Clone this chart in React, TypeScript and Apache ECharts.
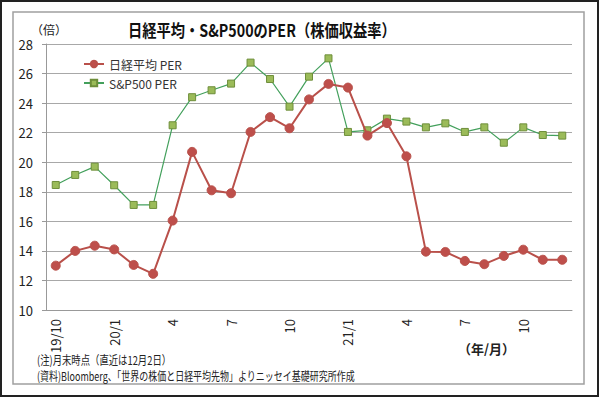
import React, { useEffect, useRef } from "react";
import * as echarts from "echarts";

const months = [
  "2019/10", "2019/11", "2019/12",
  "2020/1", "2020/2", "2020/3", "2020/4", "2020/5", "2020/6", "2020/7", "2020/8", "2020/9", "2020/10", "2020/11", "2020/12",
  "2021/1", "2021/2", "2021/3", "2021/4", "2021/5", "2021/6", "2021/7", "2021/8", "2021/9", "2021/10", "2021/11", "2021/12",
];
const tickLabels = [
  "19/10", "", "", "20/1", "", "", "4", "", "", "7", "", "", "10", "", "",
  "21/1", "", "", "4", "", "", "7", "", "", "10", "", "",
];
const nikkeiPER = [
  13.0, 14.0, 14.35, 14.1, 13.05, 12.45, 16.05, 20.7, 18.1, 17.9, 22.05, 23.05, 22.3, 24.25,
  25.3, 25.05, 21.8, 22.65, 20.4, 13.95, 13.93, 13.32, 13.1, 13.66, 14.08, 13.4, 13.4,
];
const spPER = [
  18.46, 19.14, 19.7, 18.44, 17.11, 17.11, 22.5, 24.4, 24.87, 25.32, 26.74, 25.63, 23.76, 25.79,
  27.03, 22.05, 22.16, 22.95, 22.75, 22.36, 22.63, 22.05, 22.36, 21.32, 22.36, 21.84, 21.8,
];
const yTicks = { min: 10, max: 28, interval: 2 };

const FONT = '"Noto Sans CJK JP", "Noto Sans", sans-serif';

export default function App() {
  const ref = useRef<HTMLDivElement>(null);
  useEffect(() => {
    if (!ref.current) return;
    const chart = echarts.init(ref.current, undefined, { renderer: "svg" });
    chart.setOption({
      animation: false,
      textStyle: { fontFamily: FONT },
      grid: { left: 46, right: 28, top: 44, bottom: 88, containLabel: false },
      legend: {
        orient: "vertical",
        left: 78,
        top: 53,
        itemGap: 7,
        itemWidth: 20,
        itemHeight: 8,
        textStyle: { fontSize: 12, color: "#333", fontFamily: FONT },
        data: ["日経平均 PER", "S&P500 PER"],
      },
      xAxis: {
        type: "category",
        data: months,
        boundaryGap: true,
        axisLine: { show: true, lineStyle: { color: "#999", width: 1 } },
        axisTick: { show: false },
        axisLabel: {
          interval: 0,
          rotate: 90,
          margin: 9,
          fontSize: 13,
          color: "#222",
          fontFamily: FONT,
          formatter: (_v: string, i: number) => tickLabels[i],
        },
      },
      yAxis: {
        type: "value",
        min: yTicks.min,
        max: yTicks.max,
        interval: yTicks.interval,
        axisLine: { show: true, lineStyle: { color: "#999", width: 1 } },
        axisTick: { show: true, length: 4, lineStyle: { color: "#999" } },
        splitLine: { show: true, lineStyle: { color: "#A8A8A8", width: 1 } },
        axisLabel: { fontSize: 13, color: "#222", margin: 13, fontFamily: FONT },
      },
      series: [
        {
          name: "日経平均 PER",
          type: "line",
          data: nikkeiPER,
          symbol: "circle",
          symbolSize: 9,
          lineStyle: { color: "#B9504A", width: 2 },
          itemStyle: { color: "#BE4F4B", borderColor: "#B9504A", borderWidth: 1 },
          z: 3,
        },
        {
          name: "S&P500 PER",
          type: "line",
          data: spPER,
          symbol: "rect",
          symbolSize: 7,
          lineStyle: { color: "#43A05C", width: 1.2 },
          itemStyle: { color: "#9BBB59", borderColor: "#6E8E3A", borderWidth: 1 },
          z: 2,
        },
      ],
      graphic: [
        { type: "rect", shape: { x: 1, y: 1, width: 597, height: 395 }, style: { fill: "none", stroke: "#222", lineWidth: 2 }, silent: true },
        { type: "rect", shape: { x: 13, y: 12, width: 571, height: 372 }, style: { fill: "none", stroke: "#A0A0A0", lineWidth: 1.5 }, silent: true },
        {
          type: "group",
          x: 128,
          y: 30,
          scaleX: 0.84,
          children: [
            {
              type: "text",
              x: 0,
              y: 0,
              style: { text: "日経平均・S&P500のPER（株価収益率）", font: `bold 17px ${FONT}`, fill: "#111", textVerticalAlign: "middle", textAlign: "left" },
            },
          ],
        },
        { type: "text", left: 31, top: 23, style: { text: "（倍）", font: `12px ${FONT}`, fill: "#222" } },
        { type: "text", left: 458, top: 342, style: { text: "（年/月）", font: `bold 13px ${FONT}`, fill: "#222" } },
        {
          type: "group",
          x: 37,
          y: 360,
          scaleX: 0.78,
          children: [
            { type: "text", x: 0, y: 0, style: { text: "(注)月末時点（直近は12月2日）", font: `12px ${FONT}`, fill: "#222", textVerticalAlign: "middle", textAlign: "left" } },
          ],
        },
        {
          type: "group",
          x: 37,
          y: 376,
          scaleX: 0.75,
          children: [
            {
              type: "text",
              x: 0,
              y: 0,
              style: { text: "(資料)Bloomberg、「世界の株価と日経平均先物」よりニッセイ基礎研究所作成", font: `12px ${FONT}`, fill: "#222", textVerticalAlign: "middle", textAlign: "left" },
            },
          ],
        },
      ],
    });
    return () => chart.dispose();
  }, []);
  return (
    <div
      ref={ref}
      style={{ position: "fixed", left: 0, top: 0, width: 600, height: 398, background: "#fff" }}
    />
  );
}
